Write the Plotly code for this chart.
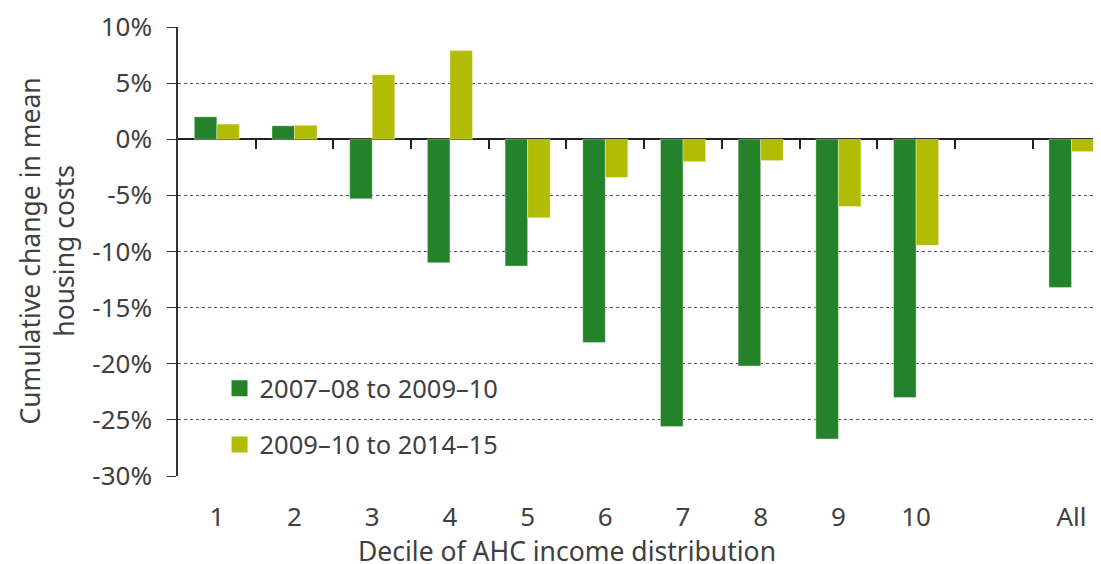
import plotly.graph_objects as go

categories = ["1", "2", "3", "4", "5", "6", "7", "8", "9", "10", "", "All"]
series1_name = "2007–08 to 2009–10"
series1 = [2.0, 1.2, -5.3, -11.0, -11.3, -18.1, -25.6, -20.2, -26.7, -23.0, None, -13.2]
series2_name = "2009–10 to 2014–15"
series2 = [1.35, 1.25, 5.75, 7.9, -7.0, -3.4, -2.0, -1.9, -6.0, -9.45, None, -1.1]
ytick_vals = [10, 5, 0, -5, -10, -15, -20, -25, -30]
ytick_text = [f"{v}%" for v in ytick_vals]

GREEN = "#24832A"
YELLOW = "#B2BC04"
TEXT = "#404040"
FONT = "Noto Sans"

x = list(range(len(categories)))

fig = go.Figure()
fig.add_trace(go.Bar(x=x, y=series1, name=series1_name, marker_color=GREEN,
                     marker_line=dict(color="rgba(255,255,255,0.35)", width=1),
                     showlegend=False))
fig.add_trace(go.Bar(x=x, y=series2, name=series2_name, marker_color=YELLOW,
                     marker_line=dict(color="rgba(255,255,255,0.35)", width=1),
                     showlegend=False))
# legend entries (square markers)
for nm, col, grp in [(series1_name, GREEN, "a"), (series2_name, YELLOW, "b")]:
    fig.add_trace(go.Scatter(x=[None], y=[None], mode="markers", name=nm,
                             marker=dict(symbol="square", size=17, color=col),
                             legendgroup=grp, showlegend=True))
# invisible trace to carry the tick axis at zero
fig.add_trace(go.Scatter(x=[x[0]], y=[0], xaxis="x2", yaxis="y", mode="markers",
                         marker=dict(opacity=0), showlegend=False, hoverinfo="skip"))

boundaries = [i + 0.5 for i in x[:-1]]
xr = [-0.5, 11.38]

fig.update_layout(
    width=1093, height=556,
    margin=dict(l=170, r=0, t=19, b=88),
    paper_bgcolor="white", plot_bgcolor="white",
    font=dict(family=FONT, color=TEXT, size=26),
    barmode="group", bargap=0.42, bargroupgap=0,
    showlegend=True,
    legend=dict(x=0.045, y=0.132, xanchor="left", yanchor="middle",
                font=dict(size=25.5, color=TEXT), bgcolor="rgba(0,0,0,0)",
                traceorder="grouped", tracegroupgap=20, itemwidth=30),
    xaxis=dict(range=xr, tickmode="array", tickvals=x, ticktext=categories,
               showgrid=False, zeroline=False, showline=False,
               ticks="outside", ticklen=18, tickcolor="rgba(0,0,0,0)",
               tickfont=dict(size=26, color=TEXT)),
    xaxis2=dict(range=xr, overlaying="x", anchor="free", position=0.75,
                side="bottom", tickmode="array", tickvals=boundaries,
                showticklabels=False, ticks="outside", ticklen=9,
                tickcolor="#222222", tickwidth=1.5, showline=False,
                showgrid=False, zeroline=False),
    yaxis=dict(range=[-30, 10], tickmode="array", tickvals=ytick_vals, ticktext=ytick_text,
               showgrid=True, gridcolor="#555555", griddash="dot", gridwidth=1,
               zeroline=True, zerolinecolor="#222222", zerolinewidth=1.5,
               showline=True, linecolor="#333333", linewidth=1.5,
               ticks="outside", ticklen=9, tickcolor="#333333",
               tickfont=dict(size=26, color=TEXT), ticklabelstandoff=10),
)

fig.add_annotation(text="Cumulative change in mean<br>housing costs", xref="paper", yref="paper",
                   x=(38 - 170) / 923, y=0.5, xanchor="center", yanchor="middle",
                   textangle=-90, showarrow=False, font=dict(size=26.5, color=TEXT))
fig.add_annotation(text="Decile of AHC income distribution", xref="paper", yref="paper",
                   x=(559 - 170) / 923, y=(468 - 543) / 449, xanchor="center", yanchor="middle",
                   showarrow=False, font=dict(size=26.5, color=TEXT))

fig.write_html("out.html")
